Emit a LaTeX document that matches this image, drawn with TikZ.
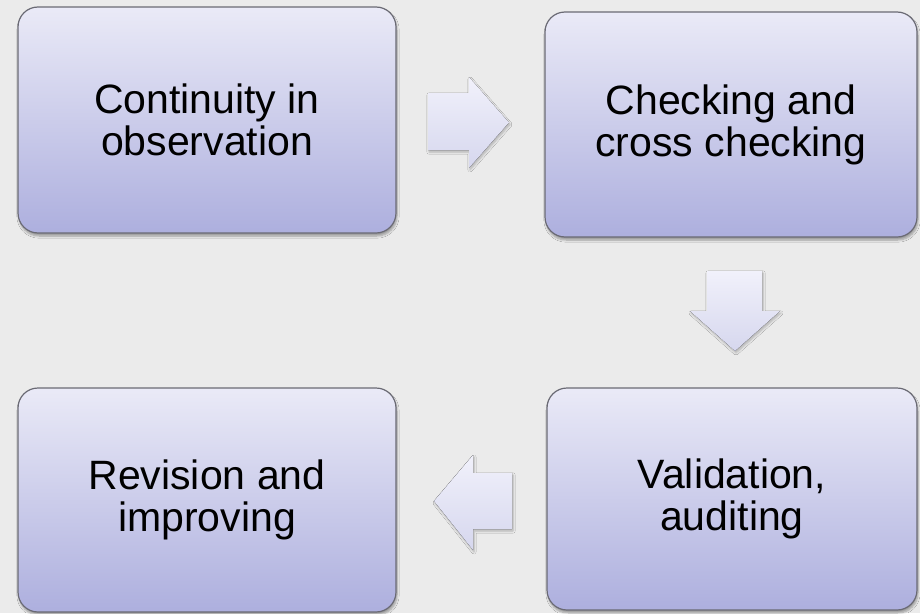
\documentclass[tikz,border=0pt]{standalone}
\usepackage{fontspec}
\setmainfont{Liberation Sans}
\usetikzlibrary{shadows.blur}
\definecolor{bg}{HTML}{EBEBEB}
\definecolor{boxtop}{HTML}{EAEAF7}
\definecolor{boxbot}{HTML}{ADAFDE}
\definecolor{boxline}{HTML}{6A6A74}
\definecolor{arrtop}{HTML}{F1F1FB}
\definecolor{arrbot}{HTML}{D6D7EE}
\tikzset{
  stepbox/.style={draw=boxline, line width=1.2pt, rounded corners=20pt,
    top color=boxtop, bottom color=boxbot,
    blur shadow={shadow xshift=1pt, shadow yshift=-3pt, shadow blur steps=6, shadow opacity=35},
    align=center, inner sep=0pt},
  boxtext/.style={font=\fontsize{41}{42}\selectfont, align=center, inner sep=0pt},
  flowarrow/.style={top color=arrtop, bottom color=arrbot, draw=none,
    blur shadow={shadow xshift=1pt, shadow yshift=-2pt, shadow blur steps=5, shadow opacity=25}}
}
\begin{document}
\begin{tikzpicture}[x=1pt,y=-1pt]
\fill[bg] (0,0) rectangle (920,613);
\useasboundingbox (0,0) rectangle (920,613);
\node[stepbox, minimum width=378pt, minimum height=226pt] (b1) at (207,120) {};
\node[stepbox, minimum width=372pt, minimum height=225pt] (b2) at (731,124.5) {};
\node[stepbox, minimum width=370pt, minimum height=222pt] (b3) at (732,499) {};
\node[stepbox, minimum width=378pt, minimum height=224pt] (b4) at (207,500) {};
\node[boxtext] (t1) at (207,120) {Continuity in\\observation};
\node[boxtext] (t2) at (731,124.5) {Checking and\\cross checking};
\node[boxtext] (t3) at (732,499) {Validation,\\auditing};
\node[boxtext] (t4) at (207,500) {Revision and\\improving};
% arrow right
\fill[flowarrow] (428,93) -- (469,93) -- (469,77) -- (509,122.5) -- (469,168) -- (469,150) -- (428,150) -- cycle;
% arrow down
\fill[flowarrow] (707,271) -- (762,271) -- (762,311) -- (780,311) -- (735,351) -- (690,311) -- (707,311) -- cycle;
% arrow left
\fill[flowarrow] (512,473) -- (473,473) -- (473,455) -- (434,501) -- (473,550) -- (473,529) -- (512,529) -- cycle;
\end{tikzpicture}
\end{document}
